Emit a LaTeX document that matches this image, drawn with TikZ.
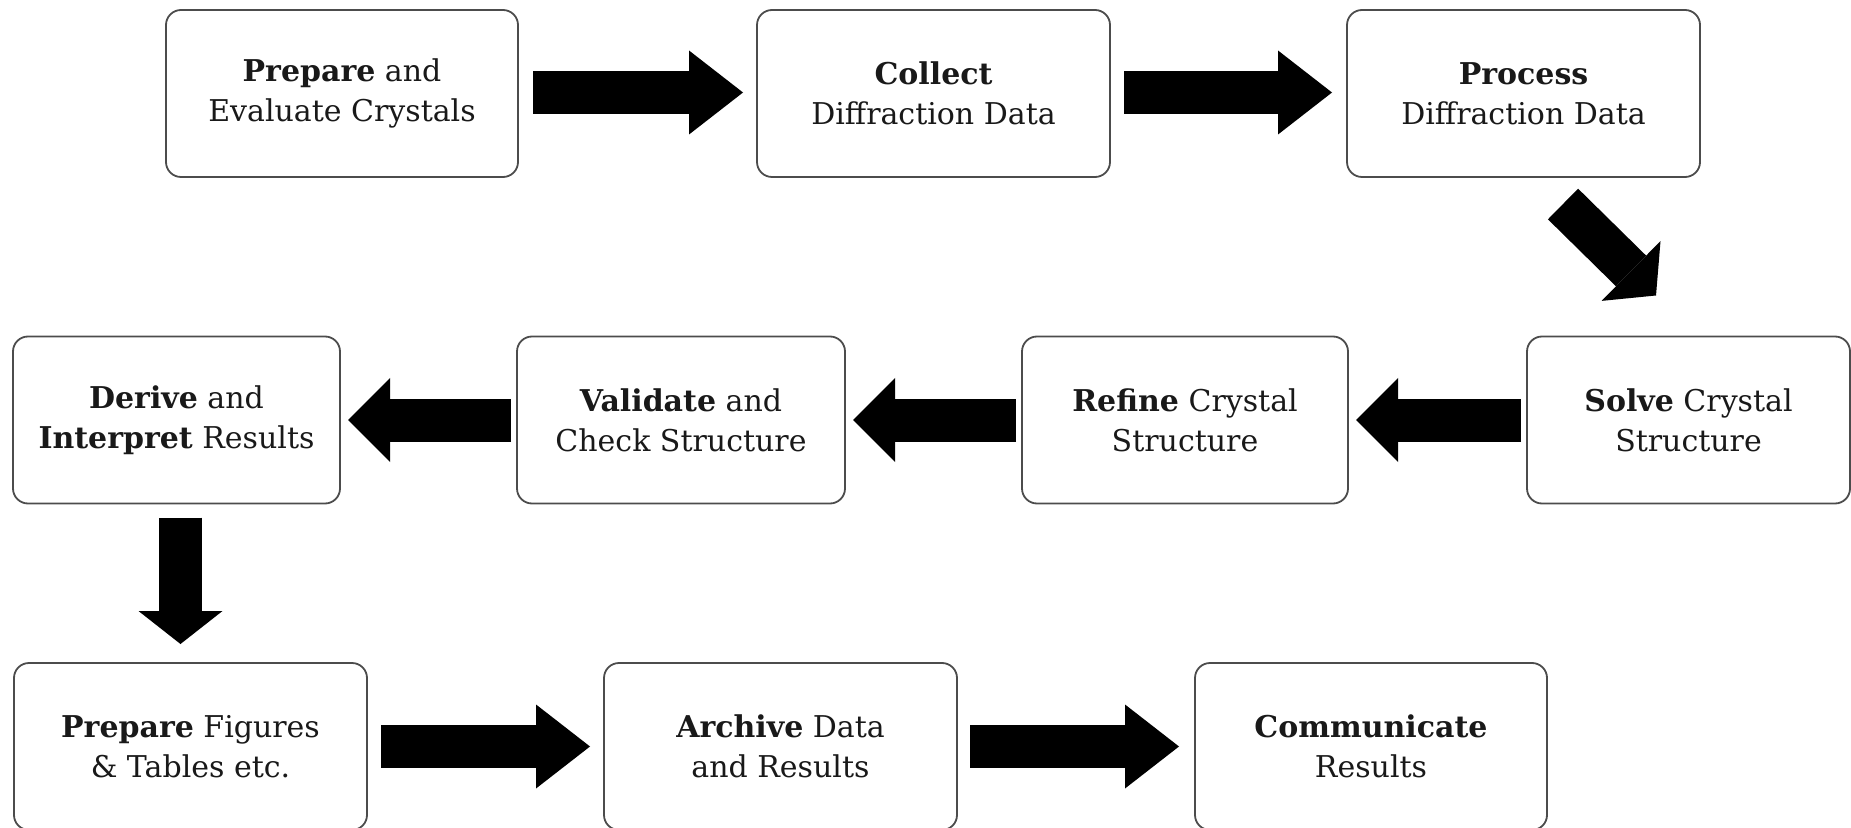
\documentclass[tikz,border=0pt]{standalone}
\usepackage{fontspec}
\setmainfont{DejaVu Serif}
\usetikzlibrary{arrows.meta,calc}
\begin{document}
\begin{tikzpicture}[x=0.5pt,y=-0.5pt,
  stepbox/.style={draw=black!70, line width=0.9pt, rounded corners=7.5pt, fill=white,
    align=center, inner sep=0pt, outer sep=0pt, minimum height=83.5pt,
    text=black!90, font=\fontsize{15}{20}\selectfont},
  blk/.style={line width=21.5pt, draw=black, -{Triangle[length=#1,width=42pt,line width=0pt]}},
  blk/.default=27pt]
\useasboundingbox (0,0) rectangle (1851,828);

% row 1
\node[stepbox, minimum width=176pt] (prep) at (342,93.5) {\textbf{Prepare} and\\Evaluate Crystals};
\node[stepbox, minimum width=176.5pt] (collect) at (933.5,93.5) {\textbf{Collect}\\Diffraction Data};
\node[stepbox, minimum width=176.5pt] (process) at (1523.5,93.5) {\textbf{Process}\\Diffraction Data};
% row 2
\node[stepbox, minimum width=161.5pt] (solve) at (1688.5,420) {\textbf{Solve} Crystal\\Structure};
\node[stepbox, minimum width=163pt] (refine) at (1185,420) {\textbf{Refine} Crystal\\Structure};
\node[stepbox, minimum width=164pt] (validate) at (681,420) {\textbf{Validate} and\\Check Structure};
\node[stepbox, minimum width=163.5pt] (derive) at (176.5,420) {\textbf{Derive} and\\\textbf{Interpret} Results};
% row 3
\node[stepbox, minimum width=176.5pt] (figs) at (190.5,746.5) {\textbf{Prepare} Figures\\\& Tables etc.};
\node[stepbox, minimum width=176.5pt] (archive) at (780.5,746.5) {\textbf{Archive} Data\\and Results};
\node[stepbox, minimum width=176pt] (comm) at (1371,746.5) {\textbf{Communicate}\\Results};

% arrows
\draw[blk] ($(prep.east)+(15,-1)$) -- ($(collect.west)+(-14,-1)$);
\draw[blk] ($(collect.east)+(14,-1)$) -- ($(process.west)+(-15,-1)$);
\draw[blk=17.5pt] ($(process.south)+(39.5,27)$) -- ($(solve.north)+(-32.5,-41)$);
\draw[blk=21pt] ($(solve.west)+(-6,0)$) -- ($(refine.east)+(8,0)$);
\draw[blk=21pt] ($(refine.west)+(-6,0)$) -- ($(validate.east)+(8,0)$);
\draw[blk=21pt] ($(validate.west)+(-6,0)$) -- ($(derive.east)+(8,0)$);
\draw[blk=16.5pt] ($(derive.south)+(4,14)$) -- ($(figs.north)+(-10,-19)$);
\draw[blk] ($(figs.east)+(14,0)$) -- ($(archive.west)+(-14,0)$);
\draw[blk] ($(archive.east)+(13,0)$) -- ($(comm.west)+(-16,0)$);
\end{tikzpicture}
\end{document}
